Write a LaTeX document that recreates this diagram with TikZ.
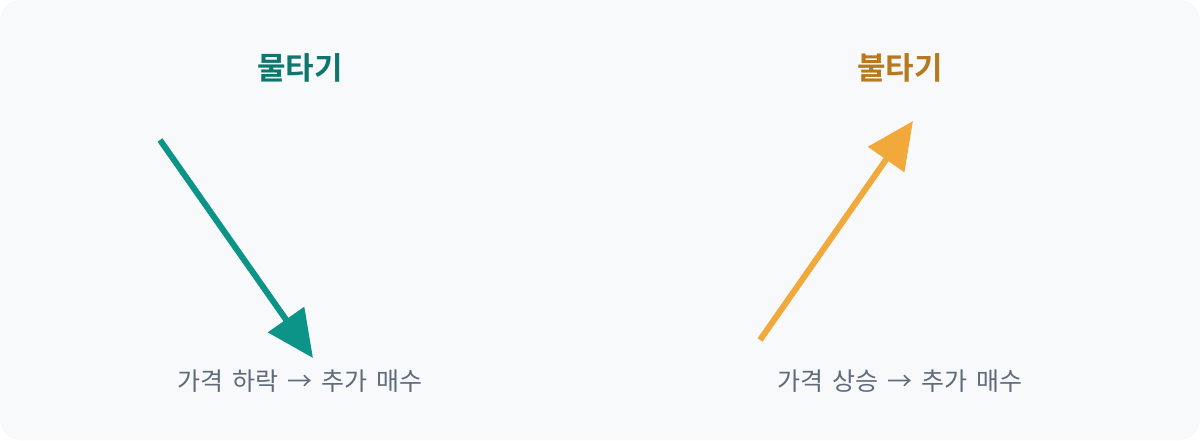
\documentclass[tikz,border=0pt]{standalone}
\usepackage{fontspec}
\setmainfont{Noto Sans CJK KR}
\newfontfamily\krbold{Noto Sans CJK KR Bold}
\usetikzlibrary{arrows.meta}
\definecolor{bgc}{HTML}{F7F9FB}
\definecolor{tealA}{HTML}{0D9488}
\definecolor{tealT}{HTML}{0F766E}
\definecolor{orA}{HTML}{F2A93B}
\definecolor{orT}{HTML}{B7791F}
\definecolor{lbl}{HTML}{5F6B7C}
\newcommand\widesp{\spaceskip=9pt plus 0pt minus 0pt\relax}
\tikzset{
  ttl/.style={font=\krbold\fontsize{31}{34}\selectfont, inner sep=0},
  lab/.style={font=\fontsize{25}{28}\selectfont, text=lbl, inner sep=0},
  bigarrow/.style={line width=6pt, -{Triangle[length=47pt,width=43pt]}}
}
\begin{document}
\begin{tikzpicture}[x=1pt,y=-1pt]
\useasboundingbox (0,0) rectangle (1200,440);
\fill[bgc, rounded corners=20pt] (0,0) rectangle (1200,440);
\node[ttl, text=tealT] (t1) at (300,68) {물타기};
\node[ttl, text=orT] (t2) at (900,68) {불타기};
\coordinate (a1) at (160,140);
\coordinate (a2) at (313,358);
\coordinate (b1) at (760,340);
\coordinate (b2) at (913,121);
\draw[bigarrow, draw=tealA, fill=tealA] (a1) -- (a2);
\draw[bigarrow, draw=orA, fill=orA] (b1) -- (b2);
\node[lab] (l1) at (300,381) {\widesp 가격 하락 → 추가 매수};
\node[lab] (l2) at (900,381) {\widesp 가격 상승 → 추가 매수};
\end{tikzpicture}
\end{document}
